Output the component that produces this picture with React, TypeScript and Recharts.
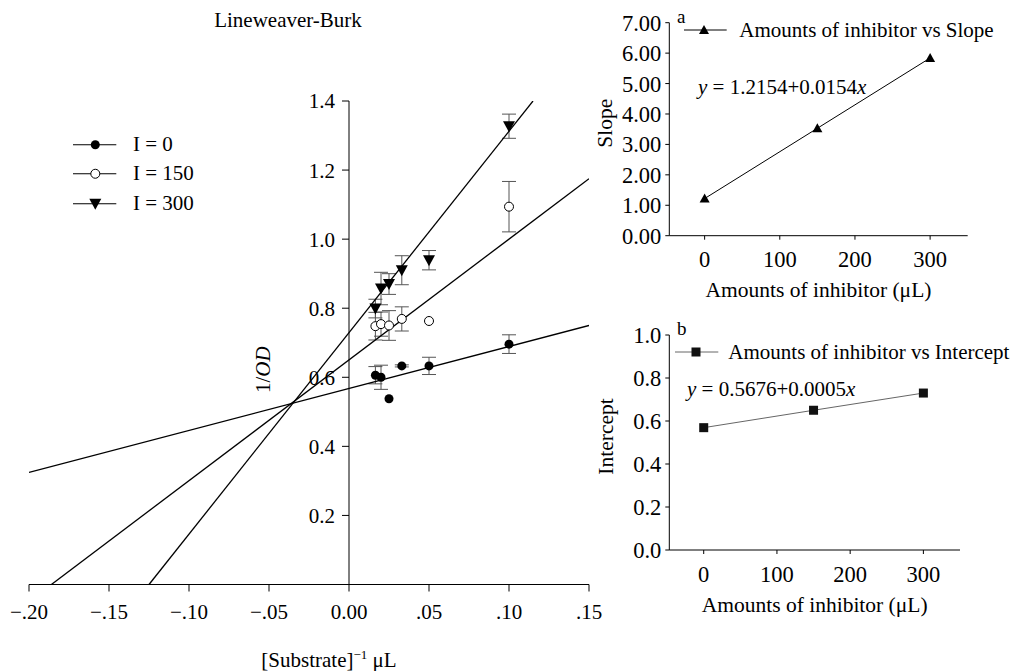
import React from "react";
import { ComposedChart, Scatter, XAxis, YAxis, ErrorBar, Legend } from "recharts";

const SERIF = '"Liberation Serif", "Times New Roman", Times, serif';

// Lineweaver-Burk: 1/[S] against 1/OD, one list per inhibitor amount
const invSubstrate = [0.0165, 0.02, 0.025, 0.033, 0.05, 0.1];
const odI0 = [0.606, 0.6, 0.538, 0.633, 0.633, 0.696];
const errI0 = [0.025, 0.035, 0, 0.003, 0.025, 0.027];
const odI150 = [0.748, 0.754, 0.75, 0.769, 0.763, 1.094];
const errI150 = [0.04, 0.035, 0.043, 0.035, 0, 0.073];
const odI300 = [0.799, 0.857, 0.87, 0.91, 0.939, 1.327];
const errI300 = [0.027, 0.047, 0.03, 0.042, 0.028, 0.035];

// fitted lines, end points
const fitI0X = [-0.2, 0.15];
const fitI0Y = [0.3245, 0.75];
const fitI150X = [-0.186, 0.15];
const fitI150Y = [0, 1.175];
const fitI300X = [-0.125, 0.115];
const fitI300Y = [0, 1.4];

const lbXTicks = [-0.2, -0.15, -0.1, -0.05, 0, 0.05, 0.1, 0.15];
const lbXTickLabels = ["\u2212.20", "\u2212.15", "\u2212.10", "\u2212.05", "0.00", ".05", ".10", ".15"];
const lbYTicks = [0.2, 0.4, 0.6, 0.8, 1.0, 1.2, 1.4];

// secondary plots
const inhibitor = [0, 150, 300];
const slopeVals = [1.22, 3.53, 5.84];
const interceptVals = [0.569, 0.65, 0.73];
const inhibitorTicks = [0, 100, 200, 300];
const slopeTicks = [0, 1, 2, 3, 4, 5, 6, 7];
const interceptTicks = [0, 0.2, 0.4, 0.6, 0.8, 1.0];

const pts = (xs: number[], ys: number[], es?: number[]) =>
  xs.map((x, i) => ({ x, y: ys[i], err: es ? es[i] : 0 }));

const tickStyle = { fill: "#000", fontSize: 21, fontFamily: SERIF };
const smallTickStyle = { fill: "#000", fontSize: 22.5, fontFamily: SERIF };

const noDot = () => <g />;
const filledDot = (p: any) => <circle cx={p.cx} cy={p.cy} r={4.5} fill="#000" />;
const openDot = (p: any) => <circle cx={p.cx} cy={p.cy} r={4.5} fill="#fff" stroke="#000" strokeWidth={1} />;
const triDown = (p: any) => (
  <path d={`M${p.cx - 6},${p.cy - 5} L${p.cx + 6},${p.cy - 5} L${p.cx},${p.cy + 6} Z`} fill="#000" />
);
const triUp = (p: any) => (
  <path d={`M${p.cx - 5},${p.cy + 4} L${p.cx + 5},${p.cy + 4} L${p.cx},${p.cy - 5} Z`} fill="#000" />
);
const square = (p: any) => <rect x={p.cx - 4.5} y={p.cy - 4.5} width={9} height={9} fill="#111" />;

function LegendRows({ rows, iconW, lineW, mark, h }: any) {
  return (
    <div style={{ fontFamily: SERIF, fontSize: 21, color: "#000" }}>
      {rows.map((r: any, i: number) => (
        <div key={i} style={{ display: "flex", alignItems: "center", height: h, lineHeight: `${h}px` }}>
          <svg width={iconW} height={h} style={{ display: "block" }}>
            <line x1={0} x2={lineW} y1={h / 2} y2={h / 2} stroke={r.stroke || "#000"} strokeWidth={1} />
            {r.shape({ cx: mark, cy: h / 2 })}
          </svg>
          <span style={{ whiteSpace: "nowrap" }}>{r.label}</span>
        </div>
      ))}
    </div>
  );
}

const yTitle = (dx: number, dy: number, children: React.ReactNode, size = 21) => (props: any) => {
  const vb = props.viewBox;
  const x = vb.x + dx;
  const y = vb.y + vb.height / 2 + dy;
  return (
    <text x={x} y={y} transform={`rotate(-90 ${x} ${y})`} textAnchor="middle" dominantBaseline="central"
      fontSize={size} fontFamily={SERIF} fill="#000">
      {children}
    </text>
  );
};

const xTitle = (dx: number, y: number, children: React.ReactNode, size = 21) => (props: any) => {
  const vb = props.viewBox;
  return (
    <text x={vb.x + vb.width / 2 + dx} y={y} textAnchor="middle" fontSize={size} fontFamily={SERIF} fill="#000">
      {children}
    </text>
  );
};

function LineweaverBurk() {
  const fit0 = pts(fitI0X, fitI0Y);
  const fit150 = pts(fitI150X, fitI150Y);
  const fit300 = pts(fitI300X, fitI300Y);
  const legendRows = [
    { label: "I = 0", shape: filledDot },
    { label: "I = 150", shape: openDot },
    { label: "I = 300", shape: triDown },
  ];
  return (
    <ComposedChart width={620} height={671} margin={{ top: 101, right: 31, bottom: 56.5, left: 29 }}>
      <XAxis
        type="number"
        dataKey="x"
        domain={[-0.2, 0.15]}
        ticks={lbXTicks}
        interval={0}
        allowDataOverflow
        height={30}
        tickFormatter={(v: number, i: number) => lbXTickLabels[i]}
        tick={tickStyle}
        tickSize={7}
        tickMargin={13}
        axisLine={{ stroke: "#000" }}
        tickLine={{ stroke: "#000" }}
        label={xTitle(20, 667, (
          <>
            <tspan>[Substrate]</tspan>
            <tspan dy={-8} fontSize={13}>{"\u22121"}</tspan>
            <tspan dy={8}>{" \u03bcL"}</tspan>
          </>
        ))}
      />
      <YAxis type="number" dataKey="y" domain={[0, 1.4]} hide allowDataOverflow />
      <Legend
        layout="vertical"
        verticalAlign="middle"
        align="center"
        wrapperStyle={{ left: 72.7, top: 129.5, width: 180 }}
        content={() => <LegendRows rows={legendRows} iconW={60.3} lineW={43.3} mark={22.3} h={29.5} />}
      />
      <Scatter data={fit0} legendType="none" line={{ stroke: "#000", strokeWidth: 1.3 }} shape={noDot} isAnimationActive={false} />
      <Scatter data={fit150} legendType="none" line={{ stroke: "#000", strokeWidth: 1.3 }} shape={noDot} isAnimationActive={false} />
      <Scatter data={fit300} legendType="none" line={{ stroke: "#000", strokeWidth: 1.3 }} shape={noDot} isAnimationActive={false} />
      <Scatter name="I = 0" data={pts(invSubstrate, odI0, errI0)} shape={filledDot} isAnimationActive={false}>
        <ErrorBar dataKey="err" direction="y" width={7} stroke="#555" strokeWidth={1} isAnimationActive={false} />
      </Scatter>
      <Scatter name="I = 150" data={pts(invSubstrate, odI150, errI150)} shape={openDot} isAnimationActive={false}>
        <ErrorBar dataKey="err" direction="y" width={7} stroke="#555" strokeWidth={1} isAnimationActive={false} />
      </Scatter>
      <Scatter name="I = 300" data={pts(invSubstrate, odI300, errI300)} shape={triDown} isAnimationActive={false}>
        <ErrorBar dataKey="err" direction="y" width={7} stroke="#555" strokeWidth={1} isAnimationActive={false} />
      </Scatter>
    </ComposedChart>
  );
}

// y axis of the Lineweaver-Burk plot sits at x = 0, so it is drawn as a separate chart laid over it
function LineweaverBurkYAxis() {
  return (
    <ComposedChart width={130} height={671} margin={{ top: 101, right: 0, bottom: 86.5, left: 0 }}>
      <XAxis type="number" dataKey="x" domain={[0, 1]} hide allowDataOverflow />
      <YAxis
        type="number"
        dataKey="y"
        domain={[0, 1.4]}
        allowDataOverflow
        ticks={lbYTicks}
        interval={0}
        width={120}
        tick={tickStyle}
        tickFormatter={(v: number) => v.toFixed(1)}
        tickSize={7}
        tickMargin={7}
        axisLine={{ stroke: "#000" }}
        tickLine={{ stroke: "#000" }}
        label={yTitle(34, 27, (
          <>
            <tspan>1/</tspan>
            <tspan fontStyle="italic">OD</tspan>
          </>
        ))}
      />
      <Scatter data={pts(invSubstrate, odI0)} legendType="none" shape={noDot} isAnimationActive={false} />
    </ComposedChart>
  );
}

function SlopePlot() {
  return (
    <ComposedChart width={438} height={310} margin={{ top: 22.7, right: 50.3, bottom: 44.3, left: 19.3 }}>
      <XAxis
        type="number"
        dataKey="x"
        domain={[-47, 350]}
        ticks={inhibitorTicks}
        interval={0}
        height={30}
        tick={smallTickStyle}
        tickSize={4}
        tickMargin={11}
        axisLine={{ stroke: "#000" }}
        tickLine={{ stroke: "#000" }}
        label={xTitle(0, 297, "Amounts of inhibitor (\u03bcL)", 21.5)}
      />
      <YAxis
        type="number"
        dataKey="y"
        domain={[0, 7]}
        ticks={slopeTicks}
        interval={0}
        width={70}
        tick={smallTickStyle}
        tickFormatter={(v: number) => v.toFixed(2)}
        tickSize={4}
        tickMargin={4}
        axisLine={{ stroke: "#000" }}
        tickLine={{ stroke: "#000" }}
        label={yTitle(6, -6, "Slope", 21.5)}
      />
      <Legend
        layout="vertical"
        verticalAlign="middle"
        align="center"
        wrapperStyle={{ left: 104, top: 18, width: 340 }}
        content={() => (
          <LegendRows rows={[{ label: "Amounts of inhibitor vs Slope", shape: triUp }]} iconW={55.3} lineW={42.7} mark={20} h={24} />
        )}
      />
      <Scatter
        name="Amounts of inhibitor vs Slope"
        data={pts(inhibitor, slopeVals)}
        line={{ stroke: "#000", strokeWidth: 1 }}
        shape={triUp}
        isAnimationActive={false}
      />
    </ComposedChart>
  );
}

function InterceptPlot() {
  return (
    <ComposedChart width={438} height={361} margin={{ top: 25, right: 58, bottom: 91, left: 19.3 }}>
      <XAxis
        type="number"
        dataKey="x"
        domain={[-47, 350]}
        ticks={inhibitorTicks}
        interval={0}
        height={30}
        tick={smallTickStyle}
        tickSize={4}
        tickMargin={12}
        axisLine={{ stroke: "#000" }}
        tickLine={{ stroke: "#000" }}
        label={xTitle(0, 302, "Amounts of inhibitor (\u03bcL)", 21.5)}
      />
      <YAxis
        type="number"
        dataKey="y"
        domain={[0, 1]}
        ticks={interceptTicks}
        interval={0}
        width={70}
        tick={smallTickStyle}
        tickFormatter={(v: number) => v.toFixed(1)}
        tickSize={4}
        tickMargin={4}
        axisLine={{ stroke: "#000" }}
        tickLine={{ stroke: "#000" }}
        label={yTitle(7, -6, "Intercept", 21.5)}
      />
      <Legend
        layout="vertical"
        verticalAlign="middle"
        align="center"
        wrapperStyle={{ left: 95, top: 29.7, width: 360 }}
        content={() => (
          <LegendRows
            rows={[{ label: "Amounts of inhibitor vs Intercept", shape: square, stroke: "#666" }]}
            iconW={53.3}
            lineW={43.3}
            mark={21}
            h={24}
          />
        )}
      />
      <Scatter
        name="Amounts of inhibitor vs Intercept"
        data={pts(inhibitor, interceptVals)}
        line={{ stroke: "#666", strokeWidth: 1 }}
        shape={square}
        isAnimationActive={false}
      />
    </ComposedChart>
  );
}

const textBase: React.CSSProperties = {
  position: "absolute",
  fontFamily: SERIF,
  fontSize: 21,
  color: "#000",
  whiteSpace: "nowrap",
  lineHeight: "24px",
};

export default function App() {
  return (
    <div style={{ position: "absolute", left: 0, top: 0, width: 1018, height: 671, background: "#fff", overflow: "hidden", fontFamily: SERIF }}>
      <div style={{ position: "absolute", left: 0, top: 0 }}>
        <LineweaverBurk />
      </div>
      <div style={{ position: "absolute", left: 229, top: 0 }}>
        <LineweaverBurkYAxis />
      </div>
      <div style={{ position: "absolute", left: 580, top: 0 }}>
        <SlopePlot />
      </div>
      <div style={{ position: "absolute", left: 580, top: 310 }}>
        <InterceptPlot />
      </div>

      <div style={{ ...textBase, left: 288, top: 8, transform: "translateX(-50%)" }}>Lineweaver-Burk</div>
      <div style={{ ...textBase, left: 677, top: 5, fontSize: 19 }}>a</div>
      <div style={{ ...textBase, left: 677, top: 317, fontSize: 19 }}>b</div>
      <div style={{ ...textBase, left: 698, top: 75 }}>
        <i>y</i> = 1.2154+0.0154<i>x</i>
      </div>
      <div style={{ ...textBase, left: 687, top: 377 }}>
        <i>y</i> = 0.5676+0.0005<i>x</i>
      </div>
    </div>
  );
}
